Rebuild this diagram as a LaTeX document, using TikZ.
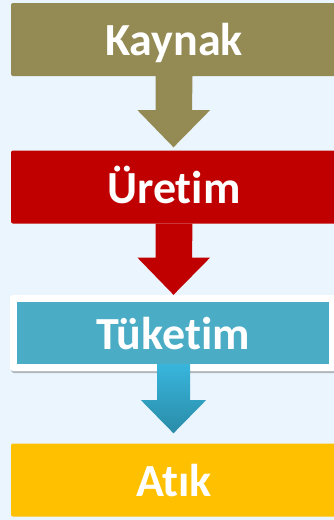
\documentclass[tikz,border=0pt]{standalone}
\usepackage{fontspec}
\setmainfont{Carlito}[Ligatures=NoCommon]
\usetikzlibrary{calc,shadows}
\definecolor{bg}{HTML}{EBF5FD}
\definecolor{kay}{HTML}{948A54}
\definecolor{ure}{HTML}{C00000}
\definecolor{tuk}{HTML}{4BACC6}
\definecolor{atk}{HTML}{FFC000}
\definecolor{arrtop}{HTML}{38B5DC}
\definecolor{arrbot}{HTML}{2A8CA8}
\tikzset{
  stage/.style={rectangle, rounded corners=2pt, minimum width=326pt, minimum height=73pt,
    text=white, font=\fontsize{46}{52}\selectfont\bfseries, inner sep=0pt,
    text height=32pt, text depth=0pt}
}
\begin{document}
\begin{tikzpicture}[x=1pt,y=-1pt]
\useasboundingbox (0,0) rectangle (334,520);
\clip (0,0) rectangle (334,520);
\fill[bg] (0,0) rectangle (334,520);
% boxes
\node[stage, fill=kay] (kaynak) at (174,39.5) {Kaynak};
\node[stage, fill=ure] (uretim) at (174,187) {Üretim};
\node[rectangle, rounded corners=3pt, fill=white, minimum width=328pt, minimum height=76pt,
      drop shadow={shadow xshift=1pt, shadow yshift=-2pt, fill=black, opacity=0.25}] (tframe) at (174,333) {};
\node[stage, rounded corners=0pt, fill=tuk, minimum width=312pt, minimum height=62pt] (tuketim) at (173,333) {Tüketim};
\node[stage, fill=atk] (atik) at (174,480) {Atık};
% arrows
\fill[kay] ($(kaynak.south)+(-18.5,0)$) -- ++(0,34) -- ++(-18,0)
  -- ($(uretim.north)+(-0.5,-3)$) -- ($(kaynak.south)+(36,34)$) -- ++(-18,0)
  -- ($(kaynak.south)+(18.5,0)$) -- cycle;
\fill[ure] ($(uretim.south)+(-18.5,0)$) -- ++(0,34) -- ++(-18,0)
  -- ($(tframe.north)+(-0.5,0)$) -- ($(uretim.south)+(36,34)$) -- ++(-18,0)
  -- ($(uretim.south)+(18.5,0)$) -- cycle;
\shade[top color=arrtop, bottom color=arrbot] ($(tuketim.south)+(-16,0)$) -- ++(0,36) -- ++(-16,0)
  -- ($(atik.north)+(-0.5,-10)$) -- ($(tuketim.south)+(33,36)$) -- ++(-16,0)
  -- ($(tuketim.south)+(17,0)$) -- cycle;
\end{tikzpicture}
\end{document}
